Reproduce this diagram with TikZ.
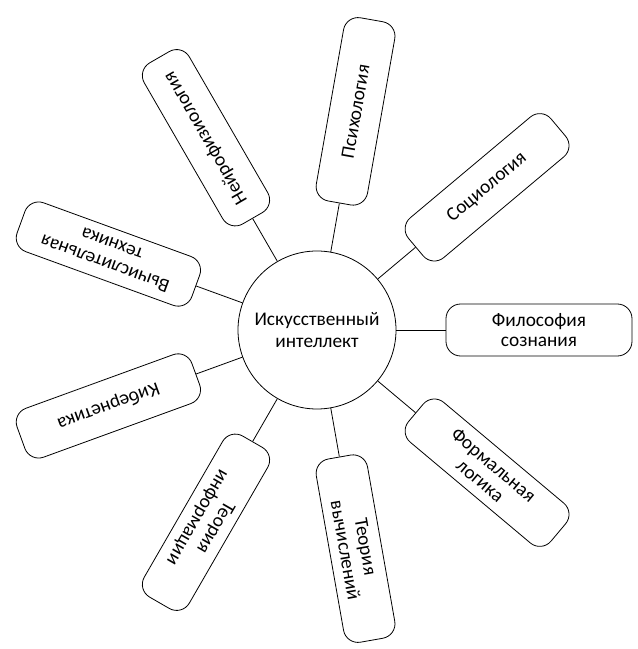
\documentclass[tikz,border=0pt]{standalone}
\usepackage{fontspec}
\setmainfont{Carlito}

\begin{document}
\begin{tikzpicture}[x=0.75pt, y=0.75pt, line width=0.6pt,
hub/.style={circle, draw, minimum size=118.5pt, inner sep=0pt, align=center, font=\fontsize{14.5}{16.5}\selectfont},
box/.style={rectangle, rounded corners=11pt, draw, minimum width=139.5pt, minimum height=39pt, inner sep=2pt, align=center, font=\fontsize{14.5}{15.5}\selectfont, rotate=#1}]

\useasboundingbox (-317,-319) rectangle (320,330);

\node [hub] (ai) at (0,0) {Искусственный\\интеллект};

%% branches
\node [box=80] (psy) at (80:222) {Психология};
\node [box=40] (soc) at (40:222) {Социология};
\node [box=0] (phil) at (0:222) {Философия\\сознания};
\node [box=-40] (logic) at (-40:222) {Формальная\\логика};
\node [box=-80] (comp) at (-80:222) {Теория\\вычислений};
\node [box=240] (info) at (240:222) {Теория\\информации};
\node [box=200] (cyber) at (200:222) {Кибернетика};
\node [box=160] (tech) at (160:222) {Вычислительная\\техника};
\node [box=120] (neuro) at (120:222) {Нейрофизиология};

\draw (ai) -- (psy);
\draw (ai) -- (soc);
\draw (ai) -- (phil);
\draw (ai) -- (logic);
\draw (ai) -- (comp);
\draw (ai) -- (info);
\draw (ai) -- (cyber);
\draw (ai) -- (tech);
\draw (ai) -- (neuro);

\end{tikzpicture}
\end{document}
